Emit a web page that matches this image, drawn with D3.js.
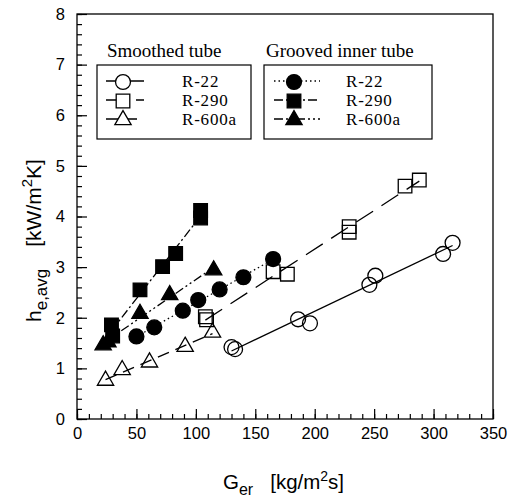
<!DOCTYPE html>
<html>
<head>
<meta charset="utf-8">
<script src="https://cdn.jsdelivr.net/npm/d3@7"></script>
<style>
  body { margin: 0; background: #fff; }
  svg { display: block; }
</style>
</head>
<body>
<div id="chart"></div>
<script>
// data: G_er [kg/m2s] and h_e,avg [kW/m2K]
var smoothR22G = [130, 133, 186, 196, 246, 251, 308, 316]
var smoothR22H = [1.42, 1.38, 1.97, 1.89, 2.65, 2.83, 3.26, 3.48]
var smoothR290G = [108, 109, 165, 177, 229, 229, 276, 288]
var smoothR290H = [2.02, 1.96, 2.91, 2.86, 3.8, 3.69, 4.6, 4.72]
var smoothR600aG = [24, 38, 61, 91, 114]
var smoothR600aH = [0.76, 0.97, 1.12, 1.43, 1.71]
var groovedR22G = [50, 65, 89, 102, 120, 140, 165]
var groovedR22H = [1.63, 1.81, 2.14, 2.35, 2.56, 2.8, 3.16]
var groovedR290G = [29, 30, 53, 72, 83, 104, 104]
var groovedR290H = [1.86, 1.64, 2.55, 3.01, 3.27, 4.12, 3.97]
var groovedR600aG = [22, 26, 53, 78, 115]
var groovedR600aH = [1.46, 1.52, 2.08, 2.45, 2.94]

var xTicks = [0, 50, 100, 150, 200, 250, 300, 350]
var yTicks = [0, 1, 2, 3, 4, 5, 6, 7, 8]
var refrigerants = ['R-22', 'R-290', 'R-600a']

var margin = { top: 14, left: 77, right: 20, bottom: 78 }
var width = 513 - margin.left - margin.right
var height = 497 - margin.top - margin.bottom

var svg = d3
  .select('#chart')
  .append('svg')
  .attr('width', width + margin.left + margin.right)
  .attr('height', height + margin.top + margin.bottom)
  .append('g')
  .attr('transform', 'translate(' + margin.left + ',' + margin.top + ')')

var x = d3.scaleLinear().domain([0, 350]).range([0, width])
var y = d3.scaleLinear().domain([0, 8]).range([height, 0])

var series = [
  { g: smoothR22G, h: smoothR22H, shape: d3.symbolCircle, size: 175, fill: 'none', dash: null },
  { g: smoothR290G, h: smoothR290H, shape: d3.symbolSquare, size: 185, fill: 'none', dash: '20,10' },
  { g: smoothR600aG, h: smoothR600aH, shape: d3.symbolTriangle, size: 115, fill: 'none', dash: '12,7' },
  { g: groovedR22G, h: groovedR22H, shape: d3.symbolCircle, size: 175, fill: '#000', dash: '1.5,3' },
  { g: groovedR290G, h: groovedR290H, shape: d3.symbolSquare, size: 185, fill: '#000', dash: '9,3,2,3' },
  { g: groovedR600aG, h: groovedR600aH, shape: d3.symbolTriangle, size: 115, fill: '#000', dash: '9,3,2,3,2,3' }
]

// frame
svg.append('rect')
  .attr('width', width).attr('height', height)
  .attr('fill', 'none').attr('stroke', '#000').attr('stroke-width', 1.3)

// minor ticks
svg.append('g')
  .attr('transform', 'translate(0,' + height + ')')
  .call(d3.axisBottom(x).tickValues(d3.range(0, 351, 10)).tickSize(-5).tickFormat(''))
svg.append('g')
  .call(d3.axisLeft(y).tickValues(d3.range(0, 8.01, 0.2)).tickSize(-5).tickFormat(''))

// major ticks
svg.append('g')
  .attr('transform', 'translate(0,' + height + ')')
  .call(d3.axisBottom(x).tickValues(xTicks).tickSize(-10).tickPadding(8))
svg.append('g')
  .call(d3.axisLeft(y).tickValues(yTicks).tickSize(-10).tickPadding(12))

svg.selectAll('.domain').remove()
svg.selectAll('.tick line').attr('stroke', '#000').attr('stroke-width', 1.2)
svg.selectAll('.tick text')
  .attr('fill', '#000')
  .style('font-family', '"Liberation Sans", Arial, sans-serif')
  .style('font-size', '16.5px')

// fitted lines and markers
series.forEach(function(s) {
  var pts = s.g.map(function(g, i) { return [g, s.h[i]] })
  var mx = d3.mean(s.g), my = d3.mean(s.h)
  var slope = d3.sum(pts, function(p) { return (p[0] - mx) * (p[1] - my) }) /
    d3.sum(pts, function(p) { return (p[0] - mx) * (p[0] - mx) })
  var fit = d3.extent(s.g).map(function(g) { return [g, my + slope * (g - mx)] })
  svg.append('path')
    .datum(fit)
    .attr('d', d3.line().x(function(d) { return x(d[0]) }).y(function(d) { return y(d[1]) }))
    .attr('fill', 'none')
    .attr('stroke', '#000')
    .attr('stroke-width', 1.3)
    .attr('stroke-dasharray', s.dash)

  svg.selectAll(null)
    .data(pts)
    .enter()
    .append('path')
    .attr('d', d3.symbol().type(s.shape).size(s.size))
    .attr('transform', function(d) { return 'translate(' + x(d[0]) + ',' + y(d[1]) + ')' })
    .attr('fill', s.fill)
    .attr('stroke', '#000')
    .attr('stroke-width', 1.3)
})

// legends
var serif = '"Liberation Serif", "Times New Roman", serif'
var legends = [
  { title: 'Smoothed tube', x: 20, w: 154, tdx: 10, items: series.slice(0, 3), lx: 9, lw: 38, mx: 17, tx: 85 },
  { title: 'Grooved inner tube', x: 187, w: 168, tdx: 2, items: series.slice(3, 6), lx: 10, lw: 46, mx: 20, tx: 82 }
]
legends.forEach(function(l) {
  var lg = svg.append('g').attr('transform', 'translate(' + l.x + ',51)')
  lg.append('text')
    .attr('x', l.tdx).attr('y', -8)
    .style('font-family', serif).style('font-size', '19px')
    .text(l.title)
  lg.append('rect')
    .attr('width', l.w).attr('height', 74)
    .attr('fill', '#fff').attr('stroke', '#000').attr('stroke-width', 1.2)
  l.items.forEach(function(s, i) {
    var cy = 16 + i * 19
    lg.append('line')
      .attr('x1', l.lx).attr('x2', l.lx + l.lw).attr('y1', cy).attr('y2', cy)
      .attr('stroke', '#000').attr('stroke-width', 1.3)
      .attr('stroke-dasharray', s.dash)
    lg.append('path')
      .attr('d', d3.symbol().type(s.shape).size(s.size))
      .attr('transform', 'translate(' + (l.lx + l.mx) + ',' + (cy + 1) + ')')
      .attr('fill', s.fill === 'none' ? '#fff' : s.fill)
      .attr('stroke', '#000').attr('stroke-width', 1.3)
    lg.append('text')
      .attr('x', l.tx).attr('y', cy + 6)
      .style('font-family', serif).style('font-size', '17px')
      .style('letter-spacing', '0.8px')
      .text(refrigerants[i])
  })
})

// axis titles
var sans = '"Liberation Sans", Arial, sans-serif'
var xt = svg.append('text')
  .attr('x', 146).attr('y', height + 70)
  .style('font-family', sans).style('font-size', '20.5px')
xt.append('tspan').text('G')
xt.append('tspan').attr('dy', 6).style('font-size', '16px').text('er')
xt.append('tspan').attr('dy', -6).attr('dx', 17).text('[kg/m')
xt.append('tspan').attr('dy', -8).style('font-size', '14px').text('2')
xt.append('tspan').attr('dy', 8).text('s]')

var yt = svg.append('text')
  .attr('transform', 'translate(' + (-36) + ',' + 308 + ') rotate(-90)')
  .style('font-family', sans).style('font-size', '21px')
yt.append('tspan').text('h')
yt.append('tspan').attr('dy', 6).style('font-size', '17px').text('e,avg')
yt.append('tspan').attr('dy', -6).attr('dx', 22).text('[kW/m')
yt.append('tspan').attr('dy', -9).style('font-size', '15px').text('2')
yt.append('tspan').attr('dy', 9).text('K]')
</script>
</body>
</html>
